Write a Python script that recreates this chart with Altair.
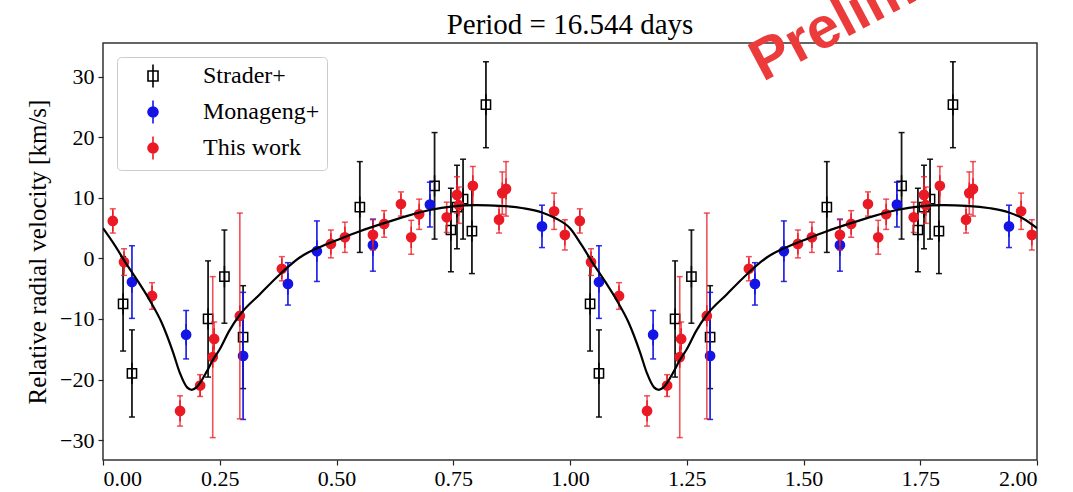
import altair as alt
import pandas as pd

# Phase-folded radial velocities (phase in [0, 1), km/s)
strader_phase = [0.043, 0.062, 0.225, 0.260, 0.300, 0.550, 0.710, 0.745, 0.758, 0.771, 0.790, 0.820]
strader_v = [-7.5, -19.0, -10.0, -3.0, -13.0, 8.5, 12.0, 4.7, 8.5, 9.8, 4.5, 25.4]
strader_err = [7.8, 7.2, 9.6, 7.7, 8.5, 7.5, 8.8, 6.9, 6.9, 6.6, 7.0, 7.1]

monageng_phase = [0.062, 0.178, 0.300, 0.396, 0.458, 0.578, 0.700, 0.940]
monageng_v = [-3.9, -12.6, -16.1, -4.2, 1.2, 2.2, 8.9, 5.3]
monageng_err = [6.0, 4.0, 10.5, 3.5, 5.0, 4.3, 3.7, 3.5]

work_phase = [0.021, 0.045, 0.105, 0.165, 0.208, 0.235, 0.238, 0.293, 0.383, 0.488,
              0.518, 0.578, 0.602, 0.638, 0.660, 0.677, 0.736, 0.758, 0.762, 0.792,
              0.848, 0.855, 0.863, 0.966, 0.989]
work_v = [6.2, -0.6, -6.2, -25.2, -21.0, -16.3, -13.3, -9.5, -1.7, 2.4,
          3.5, 3.9, 5.7, 9.0, 3.5, 7.3, 6.8, 10.5, 8.8, 12.0,
          6.4, 10.8, 11.5, 7.8, 3.9]
work_err = [2.0, 2.2, 2.2, 2.5, 1.8, 13.3, 2.8, 17.0, 2.0, 2.3,
            2.5, 2.5, 2.2, 2.0, 2.8, 2.5, 2.5, 3.0, 3.0, 3.2,
            2.2, 3.5, 4.5, 3.0, 2.5]

# Orbital model curve over one cycle
curve_phase = [0.00, 0.025, 0.05, 0.075, 0.10, 0.125, 0.15, 0.165, 0.18, 0.19,
               0.20, 0.21, 0.222, 0.235, 0.25, 0.27, 0.293, 0.336, 0.379, 0.422,
               0.465, 0.50, 0.55, 0.60, 0.65, 0.70, 0.75, 0.80, 0.85, 0.90,
               0.94, 0.97, 1.00]
curve_v = [5.0, 2.2, -0.9, -3.8, -6.9, -10.5, -15.5, -19.0, -21.3, -21.7,
           -21.3, -20.3, -18.7, -16.8, -15.0, -12.0, -9.3, -5.9, -2.6, 0.2,
           1.9, 3.0, 4.5, 5.8, 7.0, 8.0, 8.6, 8.8, 8.7, 8.3,
           7.6, 6.6, 5.0]

series_names = ["Strader+", "Monageng+", "This work"]
series_colors = ["#000000", "#1414e6", "#ea1a24"]
series_fill = ["transparent", "#1414e6", "#ea1a24"]

x_ticks = [0.0, 0.25, 0.5, 0.75, 1.0, 1.25, 1.5, 1.75, 2.0]
y_ticks = [-30, -20, -10, 0, 10, 20, 30]

title_text = "Period = 16.544 days"
stamp_text = "Preliminary"

SERIF = "Liberation Serif"

# Marker glyphs with a short vertical error stroke (shows in the legend)
SQUARE = "M-0.5,-0.5H0.5V0.5H-0.5Z M0,-1.15V1.15"
CIRCLE = "M0.5,0A0.5,0.5 0 1,1 -0.5,0A0.5,0.5 0 1,1 0.5,0Z M0,-1.15V1.15"
series_shapes = [SQUARE, CIRCLE, CIRCLE]


def two_cycles(phase, v, err, name):
    rows = []
    for cycle in (0, 1):
        for p, val, e in zip(phase, v, err):
            rows.append({"phase": p + cycle, "v": val, "lo": val - e,
                         "hi": val + e, "src": name})
    return rows


rows = (two_cycles(strader_phase, strader_v, strader_err, "Strader+")
        + two_cycles(monageng_phase, monageng_v, monageng_err, "Monageng+")
        + two_cycles(work_phase, work_v, work_err, "This work"))
obs = pd.DataFrame(rows)

curve = pd.DataFrame({
    "phase": curve_phase + [p + 1 for p in curve_phase[1:]],
    "v": curve_v + curve_v[1:],
})

x_scale = alt.Scale(domain=[0, 2], nice=False, zero=False)
y_scale = alt.Scale(domain=[-33.3, 35.6], nice=False, zero=False)

x_axis = alt.Axis(values=x_ticks, format=".2f", title=None, grid=False, domain=False,
                  tickSize=5, tickColor="#222", tickWidth=1.2, labelPadding=3,
                  labelFont=SERIF, labelFontSize=22, labelColor="black")
y_axis = alt.Axis(values=y_ticks, title="Relative radial velocity [km/s]", grid=False,
                  domain=False, tickSize=5, tickColor="#222", tickWidth=1.2,
                  labelPadding=4, labelFont=SERIF, labelFontSize=22, labelColor="black",
                  labelExpr="datum.value < 0 ? '\u2212' + format(-datum.value, 'd') : format(datum.value, 'd')",
                  titleFont=SERIF, titleFontSize=25, titleFontWeight="normal",
                  titleColor="black", titlePadding=9)

base = alt.Chart(obs)

style_scales = dict(
    stroke=alt.Stroke("src:N", title=None,
                      scale=alt.Scale(domain=series_names, range=series_colors)),
    fill=alt.Fill("src:N", title=None,
                  scale=alt.Scale(domain=series_names, range=series_fill)),
    shape=alt.Shape("src:N", title=None,
                    scale=alt.Scale(domain=series_names, range=series_shapes)),
)

bar_style = {
    "Strader+": dict(color="#000000", width=1.8, opacity=0.9),
    "Monageng+": dict(color="#1414e6", width=1.8, opacity=0.9),
    "This work": dict(color="#ea1a24", width=1.6, opacity=0.75),
}

layers = []
for i, name in enumerate(series_names):
    st = bar_style[name]
    sub = base.transform_filter(alt.datum.src == name)
    bars = sub.mark_rule(color=st["color"], strokeWidth=st["width"],
                         opacity=st["opacity"], clip=True).encode(
        x=alt.X("phase:Q", scale=x_scale, axis=x_axis),
        y=alt.Y("lo:Q", scale=y_scale, axis=y_axis),
        y2="hi:Q",
    )
    caps = sub.transform_fold(["lo", "hi"], as_=["end", "val"]).mark_tick(
        orient="horizontal", size=6, thickness=1.5, color=st["color"],
        opacity=st["opacity"], clip=True).encode(
        x=alt.X("phase:Q", scale=x_scale),
        y=alt.Y("val:Q", scale=y_scale),
    )
    pts = sub.mark_point(size=340, strokeWidth=1.5, opacity=1, clip=True).encode(
        x=alt.X("phase:Q", scale=x_scale),
        y=alt.Y("v:Q", scale=y_scale),
        **style_scales,
    )
    layers += [bars, caps, pts]

model = alt.Chart(curve).mark_line(color="black", strokeWidth=2.2,
                                    interpolate="monotone", clip=True).encode(
    x=alt.X("phase:Q", scale=x_scale),
    y=alt.Y("v:Q", scale=y_scale),
)
layers.append(model)

# Heading, placed as a text mark above the frame
heading = alt.Chart(pd.DataFrame({"label": [title_text]})).mark_text(
    font=SERIF, fontSize=29, color="black", align="center", baseline="alphabetic",
).encode(text="label:N", x=alt.value(467), y=alt.value(-9))
layers.append(heading)

stamp = alt.Chart(pd.DataFrame({"label": [stamp_text]})).mark_text(
    font="Liberation Sans", fontWeight="bold", fontSize=58, color="#ec3b3b",
    align="left", baseline="alphabetic", angle=332,
).encode(text="label:N", x=alt.value(660), y=alt.value(39))
layers.append(stamp)

chart = alt.layer(*layers).properties(
    width=934,
    height=417,
    autosize=alt.AutoSizeParams(type="none"),
    padding={"left": 103, "top": 43, "right": 36, "bottom": 32},
).configure_view(
    stroke="#333333", strokeWidth=1.5,
).configure_legend(
    orient="none", legendX=14, legendY=14,
    fillColor="white", strokeColor="#cccccc", cornerRadius=4, padding=7,
    labelFont=SERIF, labelFontSize=24, labelColor="black", labelLimit=300,
    rowPadding=6, symbolOffset=17, labelOffset=38,
    symbolSize=400, symbolStrokeWidth=1.6,
)

chart.save("out.html", embed_options={"renderer": "svg", "actions": False})
